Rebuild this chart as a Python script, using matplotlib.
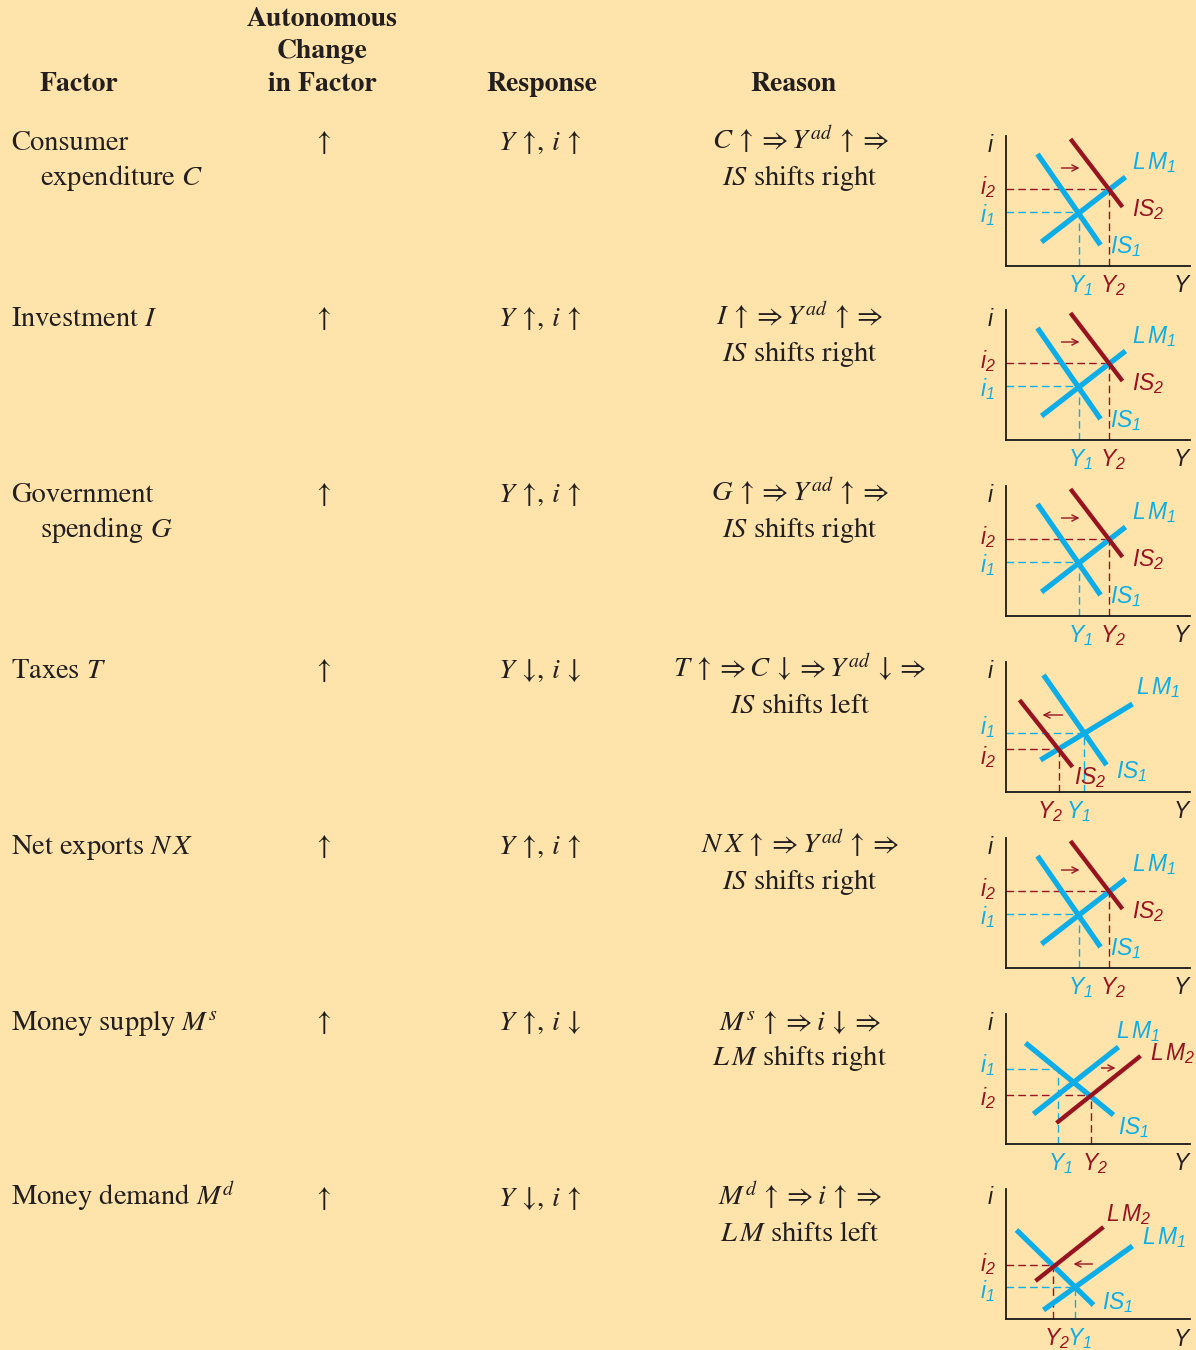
import matplotlib
matplotlib.use('Agg')
import matplotlib.pyplot as plt

# ---------------- data ----------------
header_labels = ['Factor', 'Autonomous\nChange\nin Factor', 'Response', 'Reason']

factors_line1 = ['Consumer', 'Investment $I$', 'Government', 'Taxes $T$',
                 r'Net exports $N\,X$', 'Money supply $M^s$', 'Money demand $M^d$']
factors_line2 = ['expenditure $C$', '', 'spending $G$', '', '', '', '']

changes = [r'$\uparrow$'] * 7

responses = [r'$Y\,\uparrow\!, \,i\,\uparrow$', r'$Y\,\uparrow\!, \,i\,\uparrow$',
             r'$Y\,\uparrow\!, \,i\,\uparrow$', r'$Y\,\downarrow\!, \,i\,\downarrow$',
             r'$Y\,\uparrow\!, \,i\,\uparrow$', r'$Y\,\uparrow\!, \,i\,\downarrow$',
             r'$Y\,\downarrow\!, \,i\,\uparrow$']

reasons_line1 = [r'$C\,\uparrow\Rightarrow Y^{ad}\,\uparrow\Rightarrow$',
                 r'$I\,\uparrow\Rightarrow Y^{ad}\,\uparrow\Rightarrow$',
                 r'$G\,\uparrow\Rightarrow Y^{ad}\,\uparrow\Rightarrow$',
                 r'$T\,\uparrow\Rightarrow C\,\downarrow\Rightarrow Y^{ad}\,\downarrow\Rightarrow$',
                 r'$N\,X\,\uparrow\Rightarrow Y^{ad}\,\uparrow\Rightarrow$',
                 r'$M^s\,\uparrow\Rightarrow i\,\downarrow\Rightarrow$',
                 r'$M^d\,\uparrow\Rightarrow i\,\uparrow\Rightarrow$']
reasons_line2 = ['$IS$ shifts right', '$IS$ shifts right', '$IS$ shifts right',
                 '$IS$ shifts left', '$IS$ shifts right', r'$L\,M$ shifts right',
                 r'$L\,M$ shifts left']

diagram_kinds = ['IS right', 'IS right', 'IS right', 'IS left', 'IS right',
                 'LM right', 'LM left']

# curve: (label, colour key, (x0, x1), (y0, y1), label position)
is_right_curves = [('IS_1', 'b', (32, 95), (112, 21), (105, 19)),
                   (r'L\,M_1', 'b', (36, 120), (24, 89), (127, 103)),
                   ('IS_2', 'r', (65, 117), (127, 59), (126, 56))]
is_right_eq1, is_right_eq2 = (73, 54), (103, 77)
is_right_shift = ((56, 98), (74, 98))
is_right_ilab_y = (51, 79)
is_right_ylab_x = (75, 107)

is_left_curves = [('IS_1', 'b', (38, 101), (117, 27), (110, 20)),
                  (r'L\,M_1', 'b', (35, 127), (32, 88), (131, 104)),
                  ('IS_2', 'r', (14, 67), (92, 25), (68, 14))]
is_left_eq1, is_left_eq2 = (78, 59), (53, 43)
is_left_shift = ((57, 77), (37, 77))
is_left_ilab_y = (65, 35)
is_left_ylab_x = (73, 44)

lm_right_curves = [('IS_1', 'b', (20, 108), (101, 29), (113, 16)),
                   (r'L\,M_1', 'b', (28, 113), (30, 97), (110, 112)),
                   (r'L\,M_2', 'r', (51, 135), (21, 88), (145, 90))]
lm_right_eq1, lm_right_eq2 = (52, 75), (85, 49)
lm_right_shift = ((96, 76), (110, 76))
lm_right_ilab_y = (79, 46)
lm_right_ylab_x = (55, 89)

lm_left_curves = [('IS_1', 'b', (11, 88), (89, 14), (97, 16)),
                  (r'L\,M_1', 'b', (38, 127), (9, 73), (137, 81)),
                  (r'L\,M_2', 'r', (30, 98), (38, 92), (101, 104))]
lm_left_eq1, lm_left_eq2 = (69, 32), (47, 54)
lm_left_shift = ((87, 55), (68, 55))
lm_left_ilab_y = (28, 55)
lm_left_ylab_x = (74, 51)

# ---------------- style ----------------
W, H = 1196, 1350
BG = '#FEE4AB'
INK = '#231F20'
BLUE = '#0DAEE8'
RED = '#981320'
COL = {'b': BLUE, 'r': RED}

plt.rcParams['mathtext.fontset'] = 'stix'
plt.rcParams['mathtext.it'] = 'Liberation Sans:italic'
plt.rcParams['mathtext.rm'] = 'Liberation Sans:italic'
plt.rcParams['mathtext.sf'] = 'Liberation Sans:italic'

SERIF = 'STIXGeneral'
BODY = 20.5
HEAD = 20

fig = plt.figure(figsize=(W / 100, H / 100), dpi=100, facecolor=BG)


def fx(x):
    return x / W


def fy(y):
    return 1 - y / H


def ftext(x, y, s, ha='left', size=BODY, weight='normal', ls=1.2):
    fig.text(fx(x), fy(y), s, ha=ha, va='baseline', fontsize=size,
             family=SERIF, weight=weight, color=INK, math_fontfamily='stix',
             linespacing=ls)


# header
ftext(79, 91, header_labels[0], ha='center', size=HEAD, weight='bold')
ftext(322, 91, header_labels[1], ha='center', size=HEAD, weight='bold', ls=1.4)
ftext(542, 91, header_labels[2], ha='center', size=HEAD, weight='bold')
ftext(793, 91, header_labels[3], ha='center', size=HEAD, weight='bold')

ROW0, ROWSTEP, LINESTEP = 150, 176, 35
for k in range(7):
    yb = ROW0 + k * ROWSTEP
    ftext(11, yb, factors_line1[k])
    if factors_line2[k]:
        ftext(40, yb + LINESTEP, factors_line2[k])
    ftext(322, yb, changes[k], ha='center')
    ftext(540, yb, responses[k], ha='center')
    ftext(800, yb, reasons_line1[k], ha='center')
    ftext(800, yb + LINESTEP, reasons_line2[k], ha='center')

# ---------------- diagrams ----------------
kinds = {
    'IS right': (is_right_curves, is_right_eq1, is_right_eq2, is_right_shift,
                 is_right_ilab_y, is_right_ylab_x),
    'IS left': (is_left_curves, is_left_eq1, is_left_eq2, is_left_shift,
                is_left_ilab_y, is_left_ylab_x),
    'LM right': (lm_right_curves, lm_right_eq1, lm_right_eq2, lm_right_shift,
                 lm_right_ilab_y, lm_right_ylab_x),
    'LM left': (lm_left_curves, lm_left_eq1, lm_left_eq2, lm_left_shift,
                lm_left_ilab_y, lm_left_ylab_x),
}
origin_y = [266, 440, 616, 792, 968, 1144, 1319]
OX, AW, AH = 1005.5, 184, 130
LS = 16.5
DASH = (5.5, 3)


def label(ax, x, y, s, color, ha='left', size=LS):
    ax.text(x, y, '$' + s + '$', ha=ha, va='center', fontsize=size,
            color=color, math_fontfamily='custom', clip_on=False)


for k, kind in enumerate(diagram_kinds):
    curves, eq1, eq2, shift, ilab, ylab = kinds[kind]
    oy = origin_y[k]
    ax = fig.add_axes([fx(OX), 1 - oy / H, AW / W, AH / H])
    ax.set_xlim(0, AW)
    ax.set_ylim(0, AH)
    ax.patch.set_visible(False)
    for s in ('top', 'right'):
        ax.spines[s].set_visible(False)
    for s in ('left', 'bottom'):
        ax.spines[s].set_linewidth(1.3)
        ax.spines[s].set_color('#1a1a1a')
    ax.set_xticks([])
    ax.set_yticks([])

    # guide lines
    for (ex, ey), c in ((eq1, BLUE), (eq2, RED)):
        ax.plot([0, ex], [ey, ey], color=c, lw=1.0, dashes=DASH, zorder=1,
                clip_on=False)
        ax.plot([ex, ex], [0, ey], color=c, lw=1.0, dashes=DASH, zorder=1,
                clip_on=False)

    for name, ck, xs, ys, lp in curves:
        lw = 3.8 if ck == 'b' else 3.1
        ax.plot(xs, ys, color=COL[ck], lw=lw, solid_capstyle='butt',
                zorder=3 if ck == 'b' else 4, clip_on=False)
        label(ax, lp[0], lp[1], name, COL[ck])

    ax.annotate('', xy=shift[1], xytext=shift[0],
                arrowprops=dict(arrowstyle='->', color=RED, lw=1.0,
                                mutation_scale=11, shrinkA=0, shrinkB=0))

    # axis labels
    label(ax, -15, 121, 'i', INK, ha='center')
    label(ax, 177, -20, 'Y', INK, ha='center')
    label(ax, -18, ilab[0], 'i_1', BLUE, ha='center')
    label(ax, -18, ilab[1], 'i_2', RED, ha='center')
    label(ax, ylab[0], -20, 'Y_1', BLUE, ha='center')
    label(ax, ylab[1], -20, 'Y_2', RED, ha='center')

fig.savefig('out.png', dpi=100, facecolor=BG)
